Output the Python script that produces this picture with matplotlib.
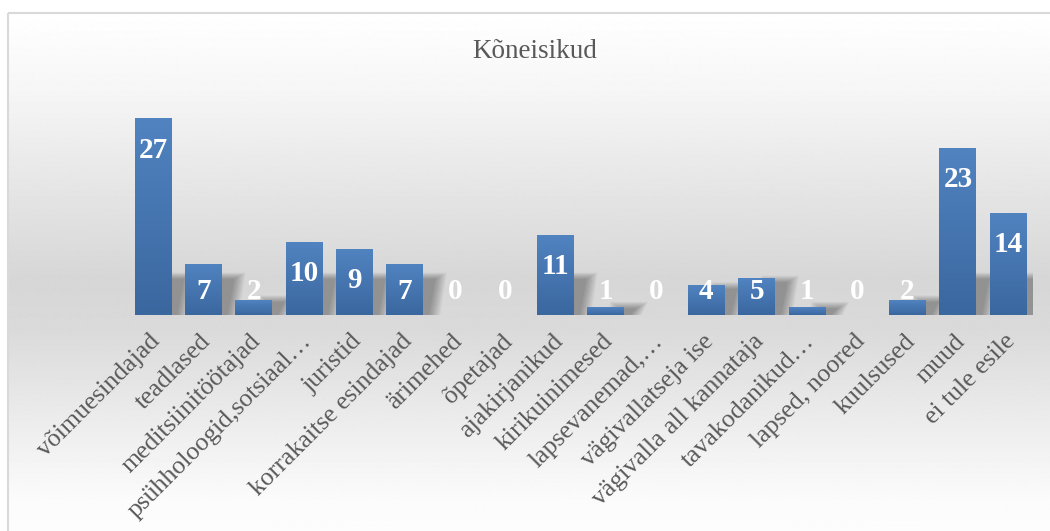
import numpy as np
import matplotlib
matplotlib.use("Agg")
import matplotlib.pyplot as plt
import matplotlib.transforms as mtransforms
from matplotlib.colors import LinearSegmentedColormap
from matplotlib.patches import Rectangle, Polygon

# datos
categorias = ["võimuesindajad", "teadlased", "meditsiinitöötajad",
              "psühholoogid,sotsiaal…", "juristid", "korrakaitse esindajad",
              "ärimehed", "õpetajad", "ajakirjanikud", "kirikuinimesed",
              "lapsevanemad,…", "vägivallatseja ise", "vägivalla all kannataja",
              "tavakodanikud…", "lapsed, noored", "kuulsused", "muud",
              "ei tule esile"]
valores = [27, 7, 2, 10, 9, 7, 0, 0, 11, 1, 0, 4, 5, 1, 0, 2, 23, 14]
titulo = "Kõneisikud"

W, H = 1050, 531
fig = plt.figure(figsize=(W / 100, H / 100), dpi=100)
fig.patch.set_facecolor("white")

# fondo con degradado vertical dentro del marco
bg = fig.add_axes([0, 0, 1, 1], zorder=0)
bg.set_xlim(0, W)
bg.set_ylim(H, 0)
bg.axis("off")
paradas = [(13, 1.00), (90, 0.965), (180, 0.905), (280, 0.84), (330, 0.855),
           (420, 0.925), (500, 0.985), (531, 0.99)]
ys = np.arange(13, H + 1)
grises = np.interp(ys, [p[0] for p in paradas], [p[1] for p in paradas])
grad = np.repeat(grises[:, None], 2, axis=1)
bg.imshow(grad, cmap="gray", vmin=0, vmax=1, aspect="auto",
          extent=[8, W + 2, H, 13], interpolation="bilinear")
bg.add_patch(Rectangle((8, 13), W, H, fill=False, edgecolor="#d9d9d9", lw=1.5))

# ejes principales
ax = fig.add_axes([127.9 / W, (H - 315) / H, 905.4 / W, 217.8 / H], zorder=1)
ax.patch.set_alpha(0)
n = len(valores)
for s in ax.spines.values():
    s.set_visible(False)
ax.tick_params(left=False, bottom=False, labelleft=False)

ancho = 0.73
cmap_barra = LinearSegmentedColormap.from_list("barra", ["#3b679f", "#5083c0"])

for i, v in enumerate(valores):
    xl, xr = i - ancho / 2, i + ancho / 2
    if v > 0:
        # sombra difusa
        hs = min(v, 5.5)
        for k in range(10):
            e = 0.025 * k
            pts = [(xr - 0.1 - e, 0), (xr + 0.12 + e, 0),
                   (xr + 0.25 + e, hs * 0.9 + e * 4), (xr - 0.05 - e, hs * 0.9 + e * 4)]
            ax.add_patch(Polygon(pts, closed=True, facecolor="black",
                                 edgecolor="none", alpha=0.035, zorder=1))
        g = np.linspace(0, 1, 64)[:, None]
        ax.imshow(g, cmap=cmap_barra, aspect="auto", origin="lower",
                  extent=[xl, xr, 0, v], zorder=2, interpolation="bilinear")
    ly = max(v - 4.3, 3.25)
    ax.text(i, ly, str(v), ha="center", va="center", color="white",
            fontsize=21, fontweight="bold", family="Liberation Serif", zorder=3)

ax.set_xlim(-0.5, n - 0.5)
ax.set_ylim(0, 30)
ax.set_xticks(range(n))
ax.set_xticklabels(categorias, rotation=45, ha="right", va="center",
                   rotation_mode="anchor", fontsize=18.5, color="#595959",
                   family="Liberation Serif")
ax.tick_params(axis="x", pad=13)
# pequeño desplazamiento a la derecha de las etiquetas
desp = mtransforms.ScaledTranslation(4 / 100, 0, fig.dpi_scale_trans)
for lab in ax.get_xticklabels():
    lab.set_transform(lab.get_transform() + desp)

fig.text(535 / W, 1 - 52 / H, titulo, ha="center", va="center", fontsize=19.5,
         color="#595959", family="Liberation Serif")

fig.savefig("out.png", dpi=100)
